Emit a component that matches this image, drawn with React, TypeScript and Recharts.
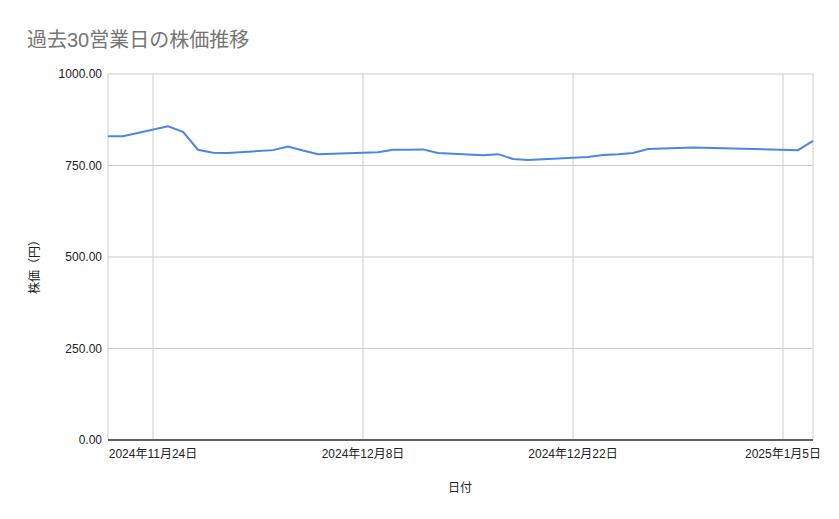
import React from 'react';
import { LineChart, Line, XAxis, YAxis, CartesianGrid } from 'recharts';

const dates = [
  '2024-11-21', '2024-11-22', '2024-11-25', '2024-11-26', '2024-11-27', '2024-11-28', '2024-11-29',
  '2024-12-02', '2024-12-03', '2024-12-04', '2024-12-05', '2024-12-06',
  '2024-12-09', '2024-12-10', '2024-12-11', '2024-12-12', '2024-12-13',
  '2024-12-16', '2024-12-17', '2024-12-18', '2024-12-19', '2024-12-20',
  '2024-12-23', '2024-12-24', '2024-12-25', '2024-12-26', '2024-12-27',
  '2024-12-30', '2025-01-06', '2025-01-07',
];
const prices = [
  830, 830, 857, 842, 793, 785, 784,
  792, 802, 791, 781, 782,
  786, 793, 793, 794, 784,
  778, 781, 768, 765, 767,
  773, 779, 781, 784, 795,
  799, 792, 817,
];
const xTickDates = ['2024-11-24', '2024-12-08', '2024-12-22', '2025-01-05'];
const yTicks = [0, 250, 500, 750, 1000];

const toTs = (s: string) => Date.parse(s + 'T00:00:00Z');
const data = dates.map((d, i) => ({ t: toTs(d), price: prices[i] }));
const xTicks = xTickDates.map(toTs);

const fmtDate = (v: number) => {
  const d = new Date(v);
  return `${d.getUTCFullYear()}年${d.getUTCMonth() + 1}月${d.getUTCDate()}日`;
};

const FONT = "'Liberation Sans', Arial, 'Noto Sans CJK JP', sans-serif";

export default function App() {
  return (
    <div style={{ position: 'absolute', left: 0, top: 0, width: 839, height: 519, background: '#fff', fontFamily: FONT }}>
      <div style={{ position: 'absolute', left: 27, top: 24, fontSize: 20, color: '#757575', whiteSpace: 'nowrap' }}>
        過去30営業日の株価推移
      </div>
      <div style={{ position: 'absolute', left: 460, top: 486, transform: 'translate(-50%, -50%)', fontSize: 12, color: '#222', whiteSpace: 'nowrap' }}>
        日付
      </div>
      <div style={{ position: 'absolute', left: 33, top: 264, transform: 'translate(-50%, -50%) rotate(-90deg)', fontSize: 12, color: '#222', whiteSpace: 'nowrap' }}>
        株価（円）
      </div>
      <LineChart width={839} height={519} data={data} margin={{ top: 74, right: 26, left: 0, bottom: 49 }}>
        <CartesianGrid stroke="#cccccc" strokeWidth={1} />
        <XAxis
          dataKey="t"
          type="number"
          scale="time"
          domain={[data[0].t, data[data.length - 1].t]}
          ticks={xTicks}
          tickFormatter={fmtDate}
          height={30}
          tickLine={false}
          tickMargin={3}
          axisLine={{ stroke: '#333333', strokeWidth: 1.5 }}
          tick={{ fill: '#222222', fontSize: 12, fontFamily: FONT }}
          interval={0}
        />
        <YAxis
          dataKey="price"
          type="number"
          domain={[0, 1000]}
          ticks={yTicks}
          tickFormatter={(v: number) => v.toFixed(2)}
          width={108}
          tickLine={false}
          axisLine={false}
          tickMargin={0}
          tick={{ fill: '#222222', fontSize: 12, fontFamily: FONT }}
          interval={0}
        />
        <Line
          type="linear"
          dataKey="price"
          stroke="#4a86e8"
          strokeWidth={2}
          dot={false}
          isAnimationActive={false}
        />
      </LineChart>
    </div>
  );
}
